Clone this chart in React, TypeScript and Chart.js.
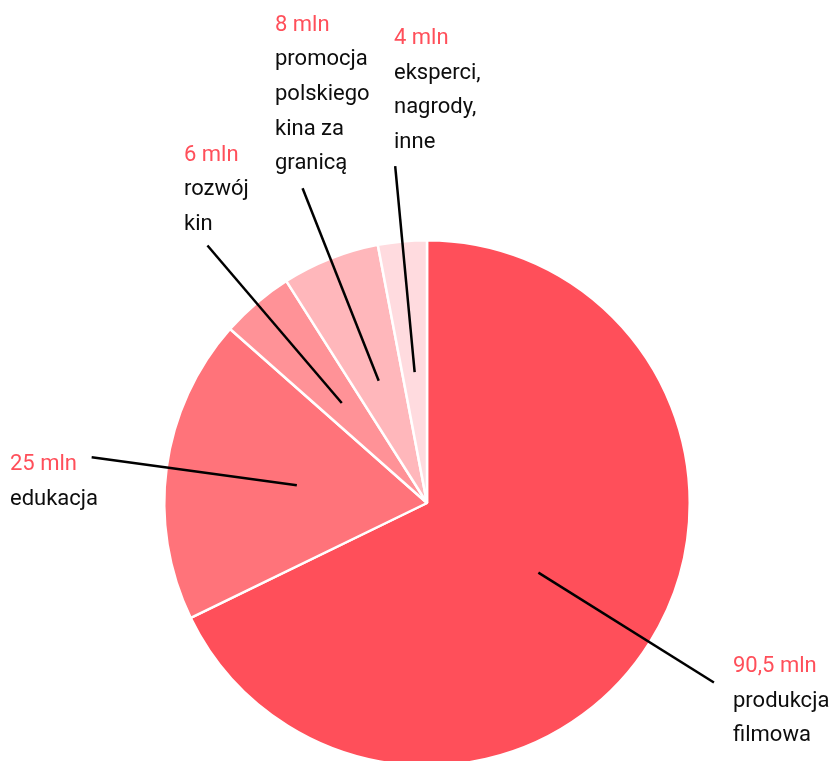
import React, { useEffect, useRef } from "react";
import { Chart, registerables } from "chart.js";

Chart.register(...registerables);

const categories: string[][] = [
  ["produkcja", "filmowa"],
  ["edukacja"],
  ["rozwój", "kin"],
  ["promocja", "polskiego", "kina za", "granicą"],
  ["eksperci,", "nagrody,", "inne"],
];
const values: number[] = [90.5, 25, 6, 8, 4];
const valueLabels: string[] = ["90,5 mln", "25 mln", "6 mln", "8 mln", "4 mln"];
const colors: string[] = ["#FF4F5A", "#FF737A", "#FF9297", "#FFB7BB", "#FFDBDF"];

// text block anchors: left x, first baseline y
const LABEL_POS: [number, number][] = [
  [733, 672],
  [10, 470],
  [184, 160.5],
  [275, 30.5],
  [394, 44],
];
const LINE_H = 34.7;

const labelPlugin = {
  id: "leaderLabels",
  afterDraw(chart: any) {
    const ctx = chart.ctx;
    const meta = chart.getDatasetMeta(0);
    ctx.save();
    meta.data.forEach((arc: any, i: number) => {
      const p = arc.getProps(["x", "y", "startAngle", "endAngle", "outerRadius"], true);
      const mid = (p.startAngle + p.endAngle) / 2;
      const r = p.outerRadius;
      const x1 = p.x + Math.cos(mid) * r * 0.5;
      const y1 = p.y + Math.sin(mid) * r * 0.5;
      const x2 = p.x + Math.cos(mid) * r * 1.288;
      const y2 = p.y + Math.sin(mid) * r * 1.288;
      ctx.beginPath();
      ctx.moveTo(x1, y1);
      ctx.lineTo(x2, y2);
      ctx.strokeStyle = "#000000";
      ctx.lineWidth = 2.5;
      ctx.stroke();

      const [lx, ly] = LABEL_POS[i];
      ctx.font = "22px Roboto";
      ctx.textAlign = "left";
      ctx.textBaseline = "alphabetic";
      ctx.fillStyle = "#FF4F5A";
      ctx.fillText(valueLabels[i], lx, ly);
      ctx.fillStyle = "#0d0d0d";
      categories[i].forEach((line, j) => {
        ctx.fillText(line, lx, ly + LINE_H * (j + 1));
      });
    });
    ctx.restore();
  },
};

export default function App() {
  const ref = useRef<HTMLCanvasElement | null>(null);
  useEffect(() => {
    if (!ref.current) return;
    const chart = new Chart(ref.current, {
      type: "pie",
      data: {
        labels: categories.map((c) => c.join(" ")),
        datasets: [
          {
            data: values,
            backgroundColor: colors,
            borderColor: "#ffffff",
            borderWidth: 2.5,
          },
        ],
      },
      options: {
        responsive: false,
        animation: false,
        layout: { padding: { top: 239, left: 163, right: 142, bottom: 13 } },
        plugins: {
          legend: { display: false },
          tooltip: { enabled: false },
        },
      },
      plugins: [labelPlugin],
    });
    return () => chart.destroy();
  }, []);
  return (
    <div
      style={{
        position: "absolute",
        left: 0,
        top: 0,
        width: 833,
        height: 761,
        overflow: "hidden",
        background: "#ffffff",
      }}
    >
      <canvas ref={ref} width={833} height={780} style={{ display: "block" }} />
    </div>
  );
}
